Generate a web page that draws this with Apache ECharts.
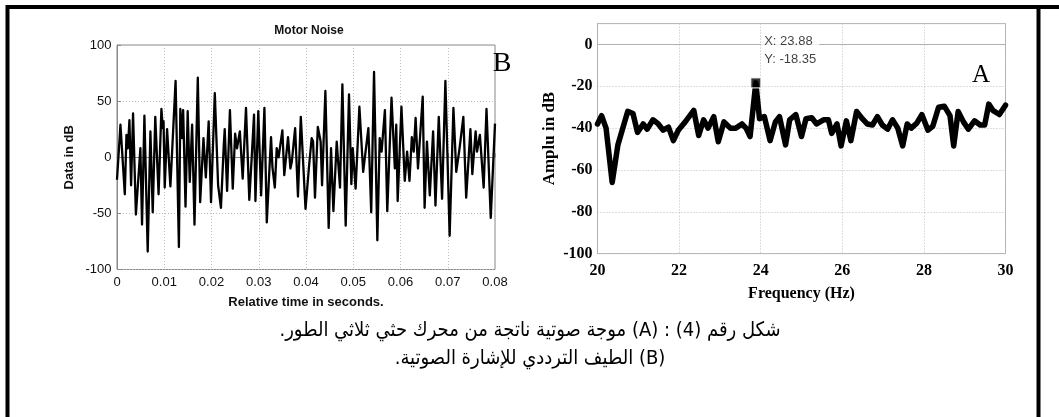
<!DOCTYPE html>
<html><head><meta charset="utf-8">
<script src="https://cdn.jsdelivr.net/npm/echarts@6/dist/echarts.min.js"></script>
<style>html,body{margin:0;padding:0;background:#fff}#c{width:1059px;height:417px}</style>
</head><body><div id="c"></div>
<script>
// ---- Panel B: Motor Noise (time in ms, value in dB) ----
const noiseTimeMs = [0,0.73,1.65,2.0,2.3,2.63,2.98,3.4,4.0,4.95,5.3,5.8,6.5,7.07,7.56,8.1,8.8,9.4,9.7,9.85,10.1,10.6,11.3,12.4,13.1,13.4,13.8,14.0,14.5,14.96,15.4,15.9,16.4,17.1,17.6,18.3,18.8,19.4,19.9,20.7,21.4,22.0,22.6,22.8,23.3,23.9,24.5,25.0,25.4,26.0,26.6,27.3,28.0,28.5,29.0,29.3,29.9,30.5,31.2,31.7,32.6,32.9,33.4,33.8,34.2,35.0,35.4,36.2,36.7,37.0,37.7,38.3,38.9,39.9,40.6,41.2,41.5,41.9,42.5,43.1,43.4,44.1,44.8,45.3,45.8,46.5,47.2,47.7,48.4,49.1,49.6,49.9,50.5,51.3,52.1,52.5,53.2,53.8,54.4,55.1,55.6,56.0,56.7,57.2,58.1,58.8,59.1,59.4,60.2,60.9,61.4,61.9,62.4,62.8,63.2,63.7,64.7,65.1,65.6,66.2,66.9,67.4,68.1,68.8,69.5,70.4,71.2,71.8,72.5,73.3,73.9,74.8,75.2,75.9,76.2,76.8,77.6,78.2,79.1,80.0];
const noiseDb = [-20,29,-33,20,8,33,-25,39,-51,8,-60,37,-84,23,-49,36,-33,43,26,32,-27,25,-26,68,-80,43,17,42,-44,41,-22,29,-60,71,-40,17,-18,32,-40,57,-25,-45,11,25,-30,42,-28,21,8,23,-19,44,-38,-1,38,-39,41,-34,44,-58,18,-9,-27,8,0,24,-16,18,-10,-4,26,-35,36,-46,-10,17,14,-36,27,14,-25,59,-63,8,-48,14,-27,65,-61,56,-24,8,-28,45,-13,-12,26,-49,76,-74,17,5,42,-48,53,-10,29,-39,45,-21,5,-21,18,5,35,-10,54,-45,14,-34,23,-43,36,-37,68,-70,44,-13,8,36,-36,25,-15,23,5,20,-27,43,-54,30];
const noiseXTicks = [0,0.01,0.02,0.03,0.04,0.05,0.06,0.07,0.08];
const noiseYTicks = [-100,-50,0,50,100];

// ---- Panel A: spectrum ----
const freqHz = [20.00,20.10,20.21,20.36,20.50,20.74,20.87,20.98,21.12,21.22,21.36,21.49,21.61,21.74,21.86,21.98,22.15,22.36,22.48,22.60,22.71,22.85,22.96,23.10,23.26,23.39,23.54,23.64,23.74,23.88,23.97,24.09,24.23,24.36,24.46,24.61,24.71,24.86,25.00,25.11,25.25,25.37,25.54,25.66,25.74,25.87,25.97,26.10,26.21,26.35,26.49,26.61,26.74,26.86,26.98,27.11,27.23,27.36,27.48,27.59,27.69,27.83,27.95,28.10,28.22,28.36,28.50,28.64,28.73,28.84,28.97,29.09,29.24,29.38,29.49,29.59,29.69,29.85,30.00];
const amplDb = [-38,-34,-40,-66,-48,-32,-33,-42,-38,-40.5,-36,-38,-41,-39.5,-46,-41,-37,-31.5,-43.5,-36,-40,-34.5,-46.5,-37,-40,-40,-38,-40,-44,-18.35,-35.5,-34.5,-46,-37,-34.5,-48,-36,-33.5,-44,-35.5,-35,-38,-36,-36,-42.5,-38,-48.5,-36.5,-46,-32,-35.5,-38,-38.5,-34.5,-38.5,-40.5,-36,-40,-48.5,-38,-40,-37.5,-33.5,-41,-39,-30,-29.5,-34,-48.5,-32,-37,-40.5,-36.5,-38.5,-38.5,-28.5,-31.5,-33.5,-29];
const dataTip = [23.88, -18.35];
const freqTicks = [20,22,24,26,28,30];
const amplTicks = [-100,-80,-60,-40,-20,0];

const captionLine1 = 'شكل رقم (4) : (A) موجة صوتية ناتجة من محرك حثي ثلاثي الطور.';
const captionLine2 = '(B) الطيف الترددي للإشارة الصوتية.';

const noiseData = noiseTimeMs.map((t, i) => [t / 1000, noiseDb[i]]);
const specData = freqHz.map((f, i) => [f, amplDb[i]]);

const sans = 'Liberation Sans, Arial, sans-serif';
const serif = 'Liberation Serif, Times New Roman, serif';
const gridLine = {show: true, lineStyle: {color: '#bdbdbd', type: [1, 2], width: 1}};
const boxAxisLine = {show: true, lineStyle: {color: '#8a8a8a', width: 1}};

const chart = echarts.init(document.getElementById('c'), null, {renderer: 'canvas'});
chart.setOption({
  animation: false,
  backgroundColor: '#fff',
  title: [
    {text: 'Motor Noise', left: 304, top: 20, textAlign: 'center',
     textStyle: {fontFamily: sans, fontSize: 12, fontWeight: 'bold', color: '#111'}},
    {text: 'B', left: 497, top: 45, textAlign: 'center',
     textStyle: {fontFamily: serif, fontSize: 28, fontWeight: 'normal', color: '#000'}},
    {text: 'A', left: 976, top: 58, textAlign: 'center',
     textStyle: {fontFamily: serif, fontSize: 25, fontWeight: 'normal', color: '#000'}}
  ],
  grid: [
    {left: 117, top: 45, width: 378, height: 224.5, show: true, borderColor: '#8a8a8a', borderWidth: 1, backgroundColor: '#fff'},
    {left: 597.5, top: 23.6, width: 408, height: 230, show: true, borderColor: '#b0b0b0', borderWidth: 1, backgroundColor: '#fff'}
  ],
  xAxis: [
    {gridIndex: 0, type: 'value', min: noiseXTicks[0], max: noiseXTicks[noiseXTicks.length - 1], interval: 0.01,
     axisLine: boxAxisLine, axisTick: {show: true, inside: true, length: 4, lineStyle: {color: '#8a8a8a'}},
     splitLine: gridLine,
     axisLabel: {margin: 6, fontFamily: sans, fontSize: 13, color: '#111',
       formatter: v => String(Math.round(v * 100) / 100)},
     name: 'Relative time in seconds.', nameLocation: 'middle', nameGap: 26,
     nameTextStyle: {fontFamily: sans, fontSize: 13, fontWeight: 'bold', color: '#111'}},
    {gridIndex: 1, type: 'value', min: freqTicks[0], max: freqTicks[freqTicks.length - 1], interval: 2,
     axisLine: {show: true, lineStyle: {color: '#b0b0b0'}}, axisTick: {show: false},
     splitLine: gridLine,
     axisLabel: {margin: 9, fontFamily: serif, fontSize: 16, fontWeight: 'bold', color: '#000'},
     name: 'Frequency (Hz)', nameLocation: 'middle', nameGap: 32,
     nameTextStyle: {fontFamily: serif, fontSize: 16, fontWeight: 'bold', color: '#000'}}
  ],
  yAxis: [
    {gridIndex: 0, type: 'value', min: noiseYTicks[0], max: noiseYTicks[noiseYTicks.length - 1], interval: 50,
     axisLine: boxAxisLine, axisTick: {show: true, inside: true, length: 4, lineStyle: {color: '#8a8a8a'}},
     splitLine: gridLine,
     axisLabel: {margin: 5.5, fontFamily: sans, fontSize: 13, color: '#111'},
     name: 'Data in dB', nameLocation: 'middle', nameGap: 41,
     nameTextStyle: {fontFamily: sans, fontSize: 13, fontWeight: 'bold', color: '#111'}},
    {gridIndex: 1, type: 'value', min: amplTicks[0], max: 10, interval: 20,
     axisLine: {show: true, lineStyle: {color: '#b0b0b0'}}, axisTick: {show: false},
     splitLine: gridLine,
     axisLabel: {margin: 5, fontFamily: serif, fontSize: 16, fontWeight: 'bold', color: '#000', showMaxLabel: false},
     name: 'Amplu in dB', nameLocation: 'middle', nameGap: 39,
     nameTextStyle: {fontFamily: serif, fontSize: 17, fontWeight: 'bold', color: '#000'}}
  ],
  series: [
    {type: 'line', xAxisIndex: 0, yAxisIndex: 0, data: noiseData, showSymbol: false,
     lineStyle: {color: '#000', width: 2.3, join: 'round'}},
    {type: 'line', xAxisIndex: 1, yAxisIndex: 1, data: specData, showSymbol: false,
     lineStyle: {color: '#000', width: 5.5, join: 'round', cap: 'round'}},
    {type: 'scatter', xAxisIndex: 1, yAxisIndex: 1, data: [dataTip], symbol: 'rect', symbolSize: 10, z: 5,
     itemStyle: {color: '#000', borderColor: '#fff', borderWidth: 1.2},
     label: {show: true, position: [11, -45], align: 'left', verticalAlign: 'top',
       fontFamily: sans, fontSize: 13, lineHeight: 18, color: '#111', backgroundColor: '#fff', padding: [0, 3],
       formatter: p => 'X: ' + p.value[0].toFixed(2) + '\nY: ' + p.value[1].toFixed(2)}}
  ],
  graphic: [
    {type: 'rect', shape: {x: 7.5, y: 7, width: 1031, height: 440}, style: {fill: 'none', stroke: '#000', lineWidth: 4}, z: 100},
    {type: 'line', shape: {x1: 1038, y1: 7, x2: 1059, y2: 7}, style: {stroke: '#000', lineWidth: 4}, z: 100},
    {type: 'text', x: 530, y: 331, style: {text: '\u202B' + captionLine1 + '\u202C', align: 'center', verticalAlign: 'middle',
      font: '20px "DejaVu Sans Condensed", "DejaVu Sans", sans-serif', fill: '#000'}, z: 100},
    {type: 'text', x: 530, y: 359, style: {text: '\u202B' + captionLine2 + '\u202C', align: 'center', verticalAlign: 'middle',
      font: '20px "DejaVu Sans Condensed", "DejaVu Sans", sans-serif', fill: '#000'}, z: 100}
  ]
});
</script></body></html>
